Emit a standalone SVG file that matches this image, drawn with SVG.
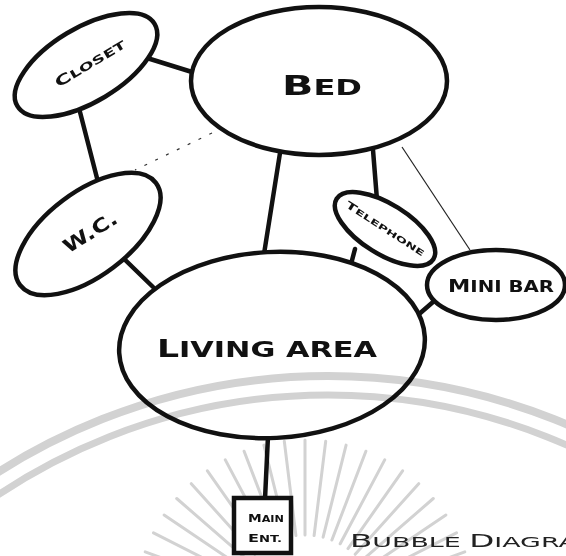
<svg xmlns="http://www.w3.org/2000/svg" width="566" height="556" viewBox="0 0 566 556">
  <style>
    .bubble { fill: #fff; stroke: #111; stroke-width: 4.5; }
    .link { stroke: #111; stroke-width: 4.5; stroke-linecap: round; fill: none; }
    .thin { stroke: #222; stroke-width: 1.2; fill: none; }
    .dots { stroke: #333; stroke-width: 1.2; stroke-dasharray: 3 9; fill: none; }
    .label { font-family: "DejaVu Sans", "Liberation Sans", sans-serif; font-weight: bold; fill: #111; }
    .wm { stroke: #d2d2d2; fill: none; mix-blend-mode: multiply; }
  </style>

  <rect width="566" height="556" fill="#fff"/>

  <!-- connectors (drawn first so the bubbles cover their ends) -->
  <g id="connectors">
    <line class="link" x1="147" y1="58" x2="192" y2="72"/>
    <line class="link" x1="80" y1="112" x2="98" y2="182"/>
    <line class="link" x1="120" y1="255" x2="153" y2="287"/>
    <line class="link" x1="280" y1="153" x2="264" y2="254"/>
    <line class="link" x1="373" y1="150" x2="377" y2="200"/>
    <line class="link" x1="355" y1="249" x2="350" y2="268"/>
    <line class="link" x1="433" y1="302" x2="418" y2="315"/>
    <line class="link" x1="268" y1="436" x2="265" y2="499"/>
    <line class="thin" x1="402" y1="147" x2="470" y2="250"/>
    <line class="dots" x1="212" y1="133" x2="135" y2="170"/>
  </g>

  <!-- rooms -->
  <g id="bed">
    <ellipse class="bubble" cx="319" cy="81" rx="128" ry="74"/>
    <text class="label" x="282" y="95" textLength="80" lengthAdjust="spacingAndGlyphs"><tspan font-size="27">B</tspan><tspan font-size="21">ED</tspan></text>
  </g>

  <g id="closet">
    <ellipse class="bubble" cx="86" cy="65" rx="80" ry="37" transform="rotate(-31 86 65)"/>
    <text class="label" x="90" y="68" text-anchor="middle" transform="rotate(-31 90 63)" textLength="80" lengthAdjust="spacingAndGlyphs"><tspan font-size="14">C</tspan><tspan font-size="11">LOSET</tspan></text>
  </g>

  <g id="wc">
    <ellipse class="bubble" cx="88" cy="234" rx="85" ry="42" transform="rotate(-37 88 234)"/>
    <text class="label" x="90" y="239" text-anchor="middle" font-size="19" transform="rotate(-32 90 232)" textLength="60" lengthAdjust="spacingAndGlyphs">W.C.</text>
  </g>

  <g id="telephone">
    <ellipse class="bubble" cx="385" cy="229" rx="57" ry="25" transform="rotate(32 385 229)"/>
    <text class="label" x="385" y="232" text-anchor="middle" transform="rotate(33 385 229)" textLength="92" lengthAdjust="spacingAndGlyphs"><tspan font-size="10">T</tspan><tspan font-size="8">ELEPHONE</tspan></text>
  </g>

  <g id="mini-bar">
    <ellipse class="bubble" cx="496" cy="285" rx="69" ry="35"/>
    <text class="label" x="448" y="292" textLength="106" lengthAdjust="spacingAndGlyphs"><tspan font-size="17">M</tspan><tspan font-size="15">INI BAR</tspan></text>
  </g>

  <g id="living-area">
    <ellipse class="bubble" cx="272" cy="345" rx="153" ry="93" transform="rotate(-3 272 345)"/>
    <text class="label" x="157" y="357" textLength="220" lengthAdjust="spacingAndGlyphs"><tspan font-size="24">L</tspan><tspan font-size="21">IVING AREA</tspan></text>
  </g>

  <!-- faint seal printed over the sheet: two rings and a fan of rays -->
  <g id="seal" class="wm">
    <circle cx="328" cy="989" r="613" stroke-width="8"/>
    <circle cx="328" cy="989" r="594" stroke-width="7"/>
    <g stroke-width="3" stroke-linecap="round">
      <line x1="234.5" y1="584.4" x2="145.2" y2="551.9"/>
      <line x1="238.2" y1="575.9" x2="153.5" y2="532.8"/>
      <line x1="242.8" y1="568.1" x2="164.1" y2="515.0"/>
      <line x1="248.4" y1="560.8" x2="176.7" y2="498.5"/>
      <line x1="254.8" y1="554.3" x2="191.3" y2="483.7"/>
      <line x1="262.0" y1="548.6" x2="207.4" y2="470.8"/>
      <line x1="269.8" y1="543.8" x2="225.3" y2="459.9"/>
      <line x1="278.1" y1="540.0" x2="244.1" y2="451.2"/>
      <line x1="286.9" y1="537.2" x2="263.9" y2="445.1"/>
      <line x1="295.9" y1="535.5" x2="284.3" y2="441.2"/>
      <line x1="305.0" y1="535.0" x2="305.0" y2="440.0"/>
      <line x1="314.1" y1="535.5" x2="325.7" y2="441.2"/>
      <line x1="323.1" y1="537.2" x2="346.1" y2="445.1"/>
      <line x1="331.9" y1="540.0" x2="365.9" y2="451.2"/>
      <line x1="340.2" y1="543.8" x2="384.7" y2="459.9"/>
      <line x1="348.0" y1="548.6" x2="402.6" y2="470.8"/>
      <line x1="355.2" y1="554.3" x2="418.7" y2="483.7"/>
      <line x1="361.6" y1="560.8" x2="433.3" y2="498.5"/>
      <line x1="367.2" y1="568.1" x2="445.9" y2="515.0"/>
      <line x1="371.8" y1="575.9" x2="456.5" y2="532.8"/>
      <line x1="375.5" y1="584.4" x2="464.8" y2="551.9"/>
    </g>
  </g>

  <g id="main-entrance">
    <rect x="234" y="498" width="57" height="55" fill="#fff" stroke="#111" stroke-width="4.5"/>
    <text class="label" x="248" y="522" textLength="36" lengthAdjust="spacingAndGlyphs"><tspan font-size="11">M</tspan><tspan font-size="9">AIN</tspan></text>
    <text class="label" x="248" y="542" textLength="34" lengthAdjust="spacingAndGlyphs"><tspan font-size="11">E</tspan><tspan font-size="9">NT.</tspan></text>
  </g>

  <!-- caption, running off the right edge -->
  <text id="caption" font-family="DejaVu Sans, sans-serif" fill="#222" x="350" y="547" textLength="250" lengthAdjust="spacingAndGlyphs"><tspan font-size="17">B</tspan><tspan font-size="14">UBBLE </tspan><tspan font-size="17">D</tspan><tspan font-size="14">IAGRAM</tspan></text>
</svg>
